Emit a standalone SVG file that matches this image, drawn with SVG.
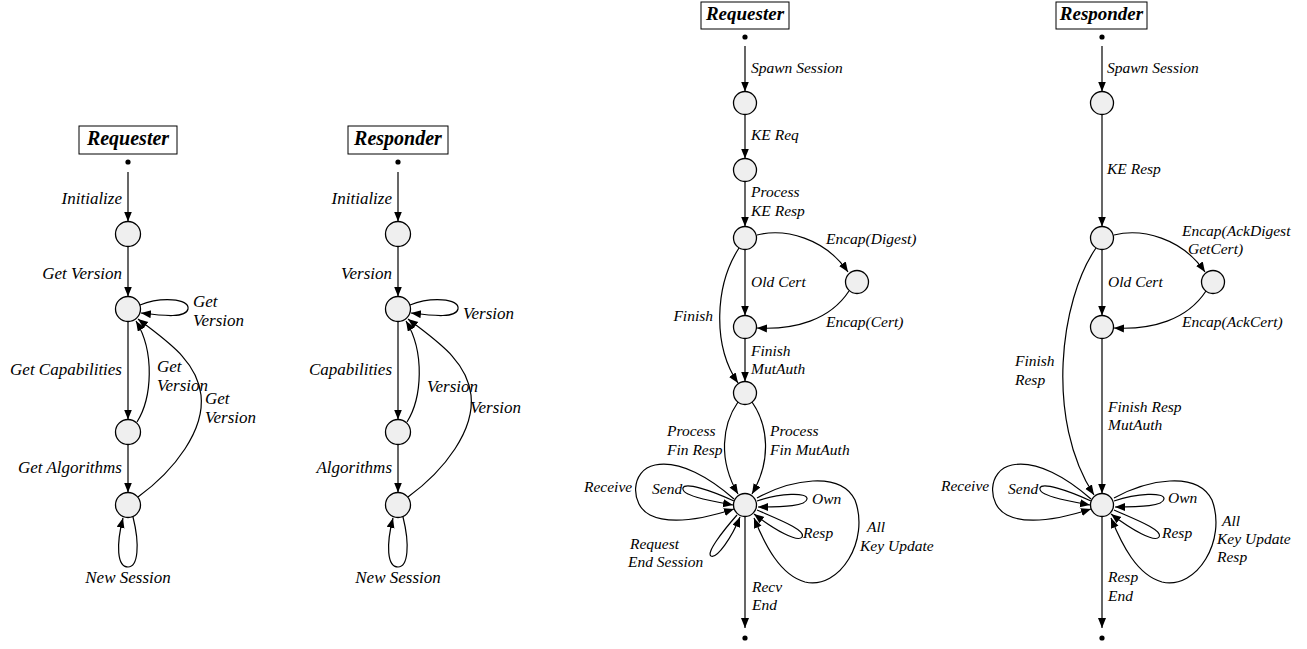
<svg xmlns="http://www.w3.org/2000/svg" width="1307" height="649" viewBox="0 0 1307 649">
<style>
.t{font-family:"Liberation Serif",serif;font-style:italic;font-size:17px;fill:#000}
.s{font-family:"Liberation Serif",serif;font-style:italic;font-size:15.5px;fill:#000}
.h{font-family:"Liberation Serif",serif;font-style:italic;font-weight:bold;font-size:19px;fill:#000;text-anchor:middle}
.hl{font-size:20px}
.box{fill:#fff;stroke:#000;stroke-width:1}
.n{fill:#efefef;stroke:#000;stroke-width:1.3}
.e{fill:none;stroke:#000;stroke-width:1.2}
.a{marker-end:url(#ah)}
.r{text-anchor:end}
.m{text-anchor:middle}
</style>
<defs>
<marker id="ah" markerUnits="userSpaceOnUse" markerWidth="11" markerHeight="9" refX="10" refY="4" orient="auto">
<path d="M0,0 L10,4 L0,8 z" fill="#000"/>
</marker>
</defs>
<rect width="1307" height="649" fill="#fff"/>

<!-- Connectors -->
<g id="connectors">
<!-- Left Requester -->
<path class="e a" d="M128,172 L128,221.5"/>
<path class="e a" d="M128,246.5 L128,296.5"/>
<path class="e a" d="M128,321.5 L128,419.5"/>
<path class="e a" d="M128,444.5 L128,492.5"/>
<path class="e a" d="M140,305 C160,297 190,298 188,309 C186,318 165,316 141,313"/>
<path class="e a" d="M137,422 C152,398 155,352 136,321"/>
<path class="e a" d="M138,497 C175,470 205,430 201,395 C197,360 165,340 138,319"/>
<path class="e a" d="M133,517 C140,545 138,567 128,567 C117,567 116,545 123,518"/>
<!-- Left Responder -->
<path class="e a" d="M398,172 L398,221.5"/>
<path class="e a" d="M398,246.5 L398,296.5"/>
<path class="e a" d="M398,321.5 L398,419.5"/>
<path class="e a" d="M398,444.5 L398,492.5"/>
<path class="e a" d="M410,305 C430,297 460,298 458,309 C456,318 435,316 411,313"/>
<path class="e a" d="M407,422 C422,398 425,352 406,321"/>
<path class="e a" d="M408,497 C445,470 475,430 471,395 C467,360 435,340 408,319"/>
<path class="e a" d="M403,517 C410,545 408,567 398,567 C387,567 386,545 393,518"/>
<!-- Right Requester -->
<path class="e a" d="M745,46 L745,91.5"/>
<path class="e a" d="M745,114.5 L745,158.5"/>
<path class="e a" d="M745,181.5 L745,226.5"/>
<path class="e a" d="M745,249.5 L745,315.5"/>
<path class="e a" d="M745,338.5 L745,381.5"/>
<path class="e a" d="M757,235 C785,228 825,238 848,272"/>
<path class="e a" d="M849,291 C830,320 795,330 757,328"/>
<path class="e a" d="M739,248 C715,285 712,345 738,383"/>
<path class="e a" d="M738,402 C722,425 718,460 738,494"/>
<path class="e a" d="M752,402 C768,425 772,460 752,494"/>
<path class="e a" d="M734,499 C710,478 680,460 655,465 C630,470 630,505 650,515 C670,525 700,520 734,509"/>
<path class="e a" d="M734,501 C710,490 685,482 683,488 C681,495 705,500 733,505"/>
<path class="e a" d="M757,501 C780,493 808,492 807,499 C806,506 785,507 758,507"/>
<path class="e a" d="M757,510 C780,520 806,530 802,537 C798,543 775,530 754,514"/>
<path class="e a" d="M757,498 C790,480 840,470 855,500 C870,540 840,590 805,582 C780,575 765,545 754,518"/>
<path class="e a" d="M737,515 C722,532 706,553 711,556 C717,559 732,537 740,517"/>
<path class="e a" d="M745,516.5 L745,628"/>
<!-- Right Responder -->
<path class="e a" d="M1102,46 L1102,91.5"/>
<path class="e a" d="M1102,114.5 L1102,226.5"/>
<path class="e a" d="M1102,249.5 L1102,315.5"/>
<path class="e a" d="M1102,338.5 L1102,493.5"/>
<path class="e a" d="M1114,235 C1142,228 1182,238 1205,272"/>
<path class="e a" d="M1206,291 C1187,320 1152,330 1114,328"/>
<path class="e a" d="M1096,248 C1060,300 1045,420 1094,495"/>
<path class="e a" d="M1091,499 C1067,478 1037,460 1012,465 C987,470 987,505 1007,515 C1027,525 1057,520 1091,509"/>
<path class="e a" d="M1091,501 C1067,490 1042,482 1040,488 C1038,495 1062,500 1090,505"/>
<path class="e a" d="M1114,501 C1137,493 1165,492 1164,499 C1163,506 1142,507 1115,507"/>
<path class="e a" d="M1114,510 C1137,520 1163,530 1159,537 C1155,543 1132,530 1111,514"/>
<path class="e a" d="M1114,498 C1147,480 1197,470 1212,500 C1227,540 1197,590 1162,582 C1137,575 1122,545 1111,518"/>
<path class="e a" d="M1102,516.5 L1102,628"/>
</g>

<!-- Left Requester -->
<g id="lreq-title"><rect class="box" x="79" y="126" width="98" height="28"/><text class="h hl" x="128" y="145">Requester</text></g>
<g id="lreq-start"><circle cx="128" cy="162" r="2.6" fill="#000"/></g>
<g id="lreq-n1"><circle class="n" cx="128" cy="234" r="12.5"/></g>
<g id="lreq-n2"><circle class="n" cx="128" cy="309" r="12.5"/></g>
<g id="lreq-n3"><circle class="n" cx="128" cy="432" r="12.5"/></g>
<g id="lreq-n4"><circle class="n" cx="128" cy="505" r="12.5"/></g>
<g id="lreq-labels">
<text class="t r" x="122" y="204">Initialize</text>
<text class="t r" x="122" y="279">Get Version</text>
<text class="t r" x="122" y="375">Get Capabilities</text>
<text class="t r" x="122" y="473">Get Algorithms</text>
<text class="t" x="193" y="307">Get</text>
<text class="t" x="193" y="326">Version</text>
<text class="t" x="157" y="372">Get</text>
<text class="t" x="157" y="391">Version</text>
<text class="t" x="205" y="404">Get</text>
<text class="t" x="205" y="423">Version</text>
<text class="t m" x="128" y="583">New Session</text>
</g>

<!-- Left Responder -->
<g id="lresp-title"><rect class="box" x="348" y="126" width="100" height="28"/><text class="h hl" x="398" y="145">Responder</text></g>
<g id="lresp-start"><circle cx="398" cy="162" r="2.6" fill="#000"/></g>
<g id="lresp-n1"><circle class="n" cx="398" cy="234" r="12.5"/></g>
<g id="lresp-n2"><circle class="n" cx="398" cy="309" r="12.5"/></g>
<g id="lresp-n3"><circle class="n" cx="398" cy="432" r="12.5"/></g>
<g id="lresp-n4"><circle class="n" cx="398" cy="505" r="12.5"/></g>
<g id="lresp-labels">
<text class="t r" x="392" y="204">Initialize</text>
<text class="t r" x="392" y="279">Version</text>
<text class="t r" x="392" y="375">Capabilities</text>
<text class="t r" x="392" y="473">Algorithms</text>
<text class="t" x="463" y="319">Version</text>
<text class="t" x="427" y="392">Version</text>
<text class="t" x="470" y="413">Version</text>
<text class="t m" x="398" y="583">New Session</text>
</g>

<!-- Right Requester -->
<g id="rreq-title"><rect class="box" x="701" y="2" width="88" height="27"/><text class="h" x="745" y="20">Requester</text></g>
<g id="rreq-start"><circle cx="745" cy="37" r="2.6" fill="#000"/></g>
<g id="rreq-n1"><circle class="n" cx="745" cy="103" r="11.5"/></g>
<g id="rreq-n2"><circle class="n" cx="745" cy="170" r="11.5"/></g>
<g id="rreq-n3"><circle class="n" cx="745" cy="238" r="11.5"/></g>
<g id="rreq-n4"><circle class="n" cx="857" cy="282" r="11.5"/></g>
<g id="rreq-n5"><circle class="n" cx="745" cy="327" r="11.5"/></g>
<g id="rreq-n6"><circle class="n" cx="745" cy="393" r="11.5"/></g>
<g id="rreq-n7"><circle class="n" cx="745" cy="505" r="11.5"/></g>
<g id="rreq-end"><circle cx="745" cy="638" r="2.6" fill="#000"/></g>
<g id="rreq-labels">
<text class="s" x="751" y="73">Spawn Session</text>
<text class="s" x="751" y="140">KE Req</text>
<text class="s" x="751" y="197">Process</text>
<text class="s" x="751" y="216">KE Resp</text>
<text class="s" x="826" y="244">Encap(Digest)</text>
<text class="s" x="751" y="287">Old Cert</text>
<text class="s r" x="713" y="321">Finish</text>
<text class="s" x="826" y="327">Encap(Cert)</text>
<text class="s" x="751" y="356">Finish</text>
<text class="s" x="751" y="374">MutAuth</text>
<text class="s" x="667" y="436">Process</text>
<text class="s" x="667" y="455">Fin Resp</text>
<text class="s" x="770" y="436">Process</text>
<text class="s" x="770" y="455">Fin MutAuth</text>
<text class="s" x="584" y="492">Receive</text>
<text class="s" x="652" y="494">Send</text>
<text class="s" x="812" y="504">Own</text>
<text class="s" x="803" y="538">Resp</text>
<text class="s" x="867" y="532">All</text>
<text class="s" x="860" y="551">Key Update</text>
<text class="s" x="630" y="549">Request</text>
<text class="s" x="628" y="567">End Session</text>
<text class="s" x="752" y="592">Recv</text>
<text class="s" x="752" y="610">End</text>
</g>

<!-- Right Responder -->
<g id="rresp-title"><rect class="box" x="1056" y="2" width="91" height="27"/><text class="h" x="1101.5" y="20">Responder</text></g>
<g id="rresp-start"><circle cx="1102" cy="37" r="2.6" fill="#000"/></g>
<g id="rresp-n1"><circle class="n" cx="1102" cy="103" r="11.5"/></g>
<g id="rresp-n2"><circle class="n" cx="1102" cy="238" r="11.5"/></g>
<g id="rresp-n3"><circle class="n" cx="1213" cy="282" r="11.5"/></g>
<g id="rresp-n4"><circle class="n" cx="1102" cy="327" r="11.5"/></g>
<g id="rresp-n5"><circle class="n" cx="1102" cy="505" r="11.5"/></g>
<g id="rresp-end"><circle cx="1102" cy="638" r="2.6" fill="#000"/></g>
<g id="rresp-labels">
<text class="s" x="1107" y="73">Spawn Session</text>
<text class="s" x="1107" y="174">KE Resp</text>
<text class="s" x="1182" y="236">Encap(AckDigest</text>
<text class="s" x="1188" y="254">GetCert)</text>
<text class="s" x="1108" y="287">Old Cert</text>
<text class="s" x="1182" y="327">Encap(AckCert)</text>
<text class="s" x="1015" y="366">Finish</text>
<text class="s" x="1015" y="385">Resp</text>
<text class="s" x="1108" y="412">Finish Resp</text>
<text class="s" x="1108" y="430">MutAuth</text>
<text class="s" x="941" y="491">Receive</text>
<text class="s" x="1008" y="494">Send</text>
<text class="s" x="1168" y="503">Own</text>
<text class="s" x="1162" y="538">Resp</text>
<text class="s" x="1222" y="526">All</text>
<text class="s" x="1217" y="544">Key Update</text>
<text class="s" x="1217" y="562">Resp</text>
<text class="s" x="1108" y="582">Resp</text>
<text class="s" x="1108" y="601">End</text>
</g>
</svg>
